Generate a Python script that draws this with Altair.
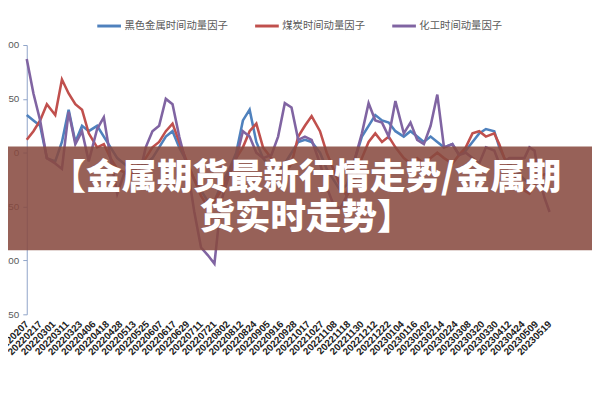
import json
import altair as alt
import pandas as pd

DATES = ["20220207", "20220217", "20220301", "20220311", "20220323", "20220406",
         "20220418", "20220428", "20220513", "20220525", "20220607", "20220617",
         "20220629", "20220711", "20220721", "20220802", "20220812", "20220824",
         "20220905", "20220916", "20220928", "20221017", "20221027", "20221108",
         "20221118", "20221130", "20221212", "20221222", "20230104", "20230116",
         "20230202", "20230214", "20230224", "20230308", "20230320", "20230330",
         "20230412", "20230424", "20230509", "20230519"]
LABEL_EVERY = 8   # trading days between labelled dates

SERIES = ["黑色金属时间动量因子", "煤炭时间动量因子", "化工时间动量因子"]
COLORS = ["#4F81BD", "#C0504D", "#8064A2"]

# trading-day index (0 = 20220207) of each read-off point
IDX = [0, 4, 8, 12, 17, 21, 25, 29, 33, 37,
       42, 46, 50, 54, 58, 62, 67, 71, 75, 79,
       83, 87, 91, 96, 100, 104, 108, 112, 116, 121,
       125, 129, 133, 137, 141, 146, 150, 154, 158, 162,
       166, 170, 175, 179, 183, 187, 191, 195, 200, 204,
       208, 212, 216, 220, 225, 229, 233, 237, 241, 245,
       249, 254, 258, 262, 266, 270, 274, 279, 282, 285,
       288, 291, 294, 297, 300, 303, 306, 309, 312]

ferrous = [35, 30, 25, -5, -8, 10, 40, 10, 25, 20,
           25, 15, 5, -5, -10, -15, -18, -10, -5, 5,
           15, 20, 5, -10, -25, -35, -45, -45, -30, -15,
           0, 30, 40, 10, -5, -15, -20, -10, 0, 10,
           12, 10, 0, -15, -25, -35, -30, -10, 15, 25,
           35, 30, 28, 20, 15, 20, 15, 10, 15, 10,
           5, 8, -2, 2, 10, 18, 22, 20, 5, -5,
           -10, -15, -20, -25, -28, -30, -32, -30, -28]
coal = [12, 20, 30, 45, 35, 68, 55, 45, 40, 18,
        5, 8, -5, -15, -18, -22, -10, -5, 5, 10,
        20, 27, 10, -10, -25, -40, -50, -45, -35, -20,
        -5, 5, 20, 27, 5, -5, -15, -20, -10, 15,
        25, 34, 20, 0, -15, -30, -40, -30, -5, 10,
        18, 10, 15, 5, -5, -10, -5, -10, -5, 0,
        -5, -10, -2, 5, 18, 20, 15, 18, 8, -5,
        -12, -20, -28, -35, -38, -30, -22, -20, -20]
chem = [87, 55, 30, -5, -10, -15, 38, 8, 20, -8,
        22, 33, -5, -38, -20, -10, -22, 5, 20, 25,
        50, 45, 15, -15, -55, -88, -95, -103, -45, -20,
        -5, 20, 15, 0, -5, -2, 15, 46, 42, 12,
        15, 12, -10, -32, -48, -52, -40, -10, 18, 46,
        30, 28, 15, 48, 18, 28, 12, 8, 25, 54,
        5, 8, -2, 0, -5, -10, 5, 2, -10, -8,
        -5, -5, -5, -5, 5, 2, -25, -42, -55]

TITLE_LINES = ["【金属期货最新行情走势/金属期", "货实时走势】"]

rows = []
for name, vals in zip(SERIES, [ferrous, coal, chem]):
    for i, v in zip(IDX, vals):
        rows.append({"idx": i, "value": v, "series": name})
df = pd.DataFrame(rows)

last_idx = (len(DATES) - 1) * LABEL_EVERY
W, H = 530, 273
PL, PT, PR, PB = 19, 35, 43, 60

label_expr = json.dumps(DATES) + "[round(datum.value / %d)]" % LABEL_EVERY

lines = alt.Chart(df).mark_line(strokeWidth=2.6).encode(
    x=alt.X("idx:Q",
            scale=alt.Scale(domain=[0, last_idx], nice=False, zero=False),
            axis=alt.Axis(values=list(range(0, last_idx + 1, LABEL_EVERY)),
                          labelExpr=label_expr, labelAngle=-45, labelAlign="right",
                          labelBaseline="middle", labelFontSize=10,
                          labelFontWeight="bold", labelColor="#222222",
                          labelFont="Liberation Sans", domain=False, ticks=False,
                          grid=False, title=None, labelPadding=8,
                          labelOverlap=False, labelBound=False)),
    y=alt.Y("value:Q",
            scale=alt.Scale(domain=[-150, 100], nice=False),
            axis=alt.Axis(values=[-150, -100, -50, 0, 50, 100], grid=False,
                          title=None, domainColor="#8EA4C8", tickColor="#8EA4C8",
                          tickSize=4, labelFontSize=10, labelColor="#595959",
                          labelFont="Liberation Sans", labelPadding=4)),
    color=alt.Color("series:N",
                    scale=alt.Scale(domain=SERIES, range=COLORS),
                    sort=SERIES,
                    legend=alt.Legend(orient="none", legendX=70, legendY=-33,
                                      direction="horizontal", title=None,
                                      symbolType="stroke", symbolStrokeWidth=3,
                                      symbolSize=576, labelFontSize=10.5,
                                      labelColor="#595959",
                                      labelFont="Noto Sans CJK SC",
                                      columnPadding=21, labelOffset=2)),
)

one = pd.DataFrame({"a": [0]})
banner = alt.Chart(one).mark_rect(color="#874a3f", opacity=0.87).encode(
    x=alt.value(-PL), x2=alt.value(W + PR),
    y=alt.value(146 - 43), y2=alt.value(251 - 43),
)
banner_text = alt.Chart(one).mark_text(
    font="Noto Sans CJK SC", fontSize=36, fontWeight=900, color="white",
    lineHeight=40, align="center", baseline="middle",
).encode(x=alt.value(310 - 27), y=alt.value(178 - 43), text=alt.value(TITLE_LINES))

chart = alt.layer(lines, banner, banner_text).properties(
    width=W, height=H,
    padding={"left": PL, "top": PT, "right": PR, "bottom": PB},
    autosize="none",
).configure_view(stroke=None)

chart.save("out.html", embed_options={"renderer": "svg", "actions": False})
